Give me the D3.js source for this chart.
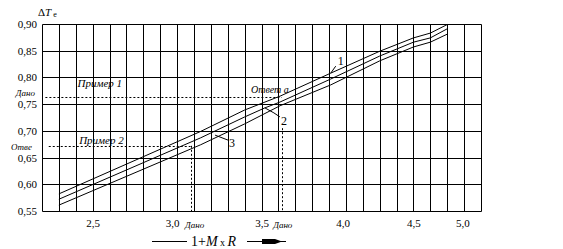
<!DOCTYPE html>
<html>
<head>
<meta charset="utf-8">
<script src="https://cdn.jsdelivr.net/npm/d3@7"></script>
<style>
    body { margin: 0; background: #fff; }
    text { font-family: "Liberation Serif", "DejaVu Serif", serif; fill: #000; }
    .it { font-style: italic; }
</style>
</head>
<body>
<div id="chart"></div>
<script>
// curves (x = 1+M x R, y = dT)
const curve1X = [2.30, 3.14, 3.40, 3.61, 3.91, 4.20, 4.40, 4.50, 4.60];
const curve1Y = [0.582, 0.699, 0.739, 0.765, 0.808, 0.849, 0.874, 0.883, 0.899];
const curve2X = [2.30, 3.14, 3.40, 3.52, 3.61, 3.91, 4.20, 4.40, 4.50, 4.60];
const curve2Y = [0.572, 0.687, 0.726, 0.743, 0.754, 0.797, 0.840, 0.866, 0.874, 0.891];
const curve3X = [2.30, 3.14, 3.40, 3.61, 3.91, 4.20, 4.40, 4.50, 4.60];
const curve3Y = [0.561, 0.674, 0.713, 0.747, 0.786, 0.831, 0.857, 0.866, 0.881];

// tick labels (the picture places them unevenly along the grid)
const xTickValues = [2.5, 2.97, 3.5, 3.98, 4.4, 4.69];
const xTickLabels = ["2,5", "3,0", "3,5", "4,0", "4,5", "5,0"];
const yTickValues = [0.55, 0.60, 0.65, 0.70, 0.75, 0.80, 0.85, 0.90];

// worked examples: given value and answer
const example1Y = 0.763;   // Пример 1, given dT
const example1X = 3.62;    // answer a
const example1Top = 0.705; // dotted vertical stops under label 2
const example2X = 3.08;    // Пример 2, given 1+M x R
const example2Y = 0.672;   // answer

const width = 563, height = 249;
const margin = { top: 24, right: 82, bottom: 38, left: 42 };

const svg = d3.select("#chart")
    .append("svg")
    .attr("width", width)
    .attr("height", height);

const x = d3.scaleLinear()
    .domain([2.2, 4.8])
    .range([margin.left, width - margin.right]);
const y = d3.scaleLinear()
    .domain([0.55, 0.90])
    .range([height - margin.bottom, margin.top]);

// snap to the pixel grid so every grid line is one pixel wide
const px = v => Math.round(v) + 0.5;

// grid
const grid = svg.append("g")
    .attr("stroke", "#000")
    .attr("stroke-width", 1);
grid.selectAll(".vLine")
    .data(d3.range(0, 27).map(i => 2.2 + i * 0.1))
    .join("line")
    .attr("class", "vLine")
    .attr("x1", d => px(x(d)))
    .attr("x2", d => px(x(d)))
    .attr("y1", px(y(0.90)))
    .attr("y2", px(y(0.55)));
grid.selectAll(".hLine")
    .data(yTickValues)
    .join("line")
    .attr("class", "hLine")
    .attr("x1", px(x(2.2)))
    .attr("x2", px(x(4.8)))
    .attr("y1", d => px(y(d)))
    .attr("y2", d => px(y(d)));

// y axis labels
const yAxis = d3.axisLeft(y)
    .tickValues(yTickValues)
    .tickFormat(d => d.toFixed(2).replace(".", ","))
    .tickSize(0)
    .tickPadding(5);
svg.append("g")
    .attr("transform", `translate(${margin.left},0)`)
    .call(yAxis)
    .call(g => g.select(".domain").remove())
    .selectAll("text")
    .attr("font-family", "Liberation Serif")
    .attr("font-size", 11);

// x axis labels
const xAxis = d3.axisBottom(x)
    .tickValues(xTickValues)
    .tickFormat((d, i) => xTickLabels[i])
    .tickSize(0)
    .tickPadding(8);
svg.append("g")
    .attr("transform", `translate(0,${y(0.55)})`)
    .call(xAxis)
    .call(g => g.select(".domain").remove())
    .selectAll("text")
    .attr("font-family", "Liberation Serif")
    .attr("font-size", 11);

// dotted guide lines of the examples
const dots = svg.append("g")
    .attr("stroke", "#000")
    .attr("stroke-width", 1)
    .attr("stroke-dasharray", "2,2");
dots.append("line")
    .attr("x1", x(2.22)).attr("x2", x(example1X))
    .attr("y1", px(y(example1Y))).attr("y2", px(y(example1Y)));
dots.append("line")
    .attr("x1", px(x(example1X))).attr("x2", px(x(example1X)))
    .attr("y1", y(example1Top)).attr("y2", y(0.55));
dots.append("line")
    .attr("x1", x(2.24)).attr("x2", x(example2X))
    .attr("y1", px(y(example2Y))).attr("y2", px(y(example2Y)));
dots.append("line")
    .attr("x1", px(x(example2X))).attr("x2", px(x(example2X)))
    .attr("y1", y(example2Y)).attr("y2", y(0.55));

// curves
const line = d3.line()
    .x(d => x(d[0]))
    .y(d => y(d[1]));
const curves = [
    d3.zip(curve1X, curve1Y),
    d3.zip(curve2X, curve2Y),
    d3.zip(curve3X, curve3Y)
];
svg.append("g")
    .selectAll("path")
    .data(curves)
    .join("path")
    .attr("d", line)
    .attr("fill", "none")
    .attr("stroke", "#000")
    .attr("stroke-width", 1);

// curve labels with leaders
const leaders = svg.append("g")
    .attr("stroke", "#000")
    .attr("fill", "none")
    .attr("stroke-width", 1);
const a1 = [x(3.91), y(0.808)];
leaders.append("path").attr("d", `M${a1[0]},${a1[1]}L${a1[0] + 5},${a1[1] - 7}`);
svg.append("text").attr("x", a1[0] + 7).attr("y", a1[1] - 8).attr("font-size", 12).text("1");
const a2 = [x(3.52), y(0.743)];
leaders.append("path").attr("d", `M${a2[0]},${a2[1]}L${a2[0] + 9},${a2[1] + 5}L${a2[0] + 15},${a2[1] + 9}`);
svg.append("text").attr("x", a2[0] + 16).attr("y", a2[1] + 17).attr("font-size", 12).text("2");
const a3 = [x(3.225), y(0.692)];
leaders.append("path").attr("d", `M${a3[0]},${a3[1]}L${a3[0] + 13},${a3[1] + 5}`);
svg.append("text").attr("x", a3[0] + 14).attr("y", a3[1] + 12).attr("font-size", 12).text("3");

// example annotations
svg.append("text").attr("class", "it")
    .attr("x", x(2.41)).attr("y", y(example1Y) - 10)
    .attr("font-size", 11).text("Пример 1");
svg.append("text").attr("class", "it")
    .attr("x", x(2.42)).attr("y", y(example2Y) - 2)
    .attr("font-size", 11).text("Пример 2");
svg.append("text").attr("class", "it")
    .attr("x", x(example1X) + 7).attr("y", y(example1Y) - 4)
    .attr("text-anchor", "end")
    .attr("font-size", 10).text("Ответ  a");
svg.append("text").attr("class", "it")
    .attr("x", margin.left - 7).attr("y", y(example1Y) - 1)
    .attr("text-anchor", "end")
    .attr("font-size", 9).text("Дано");
svg.append("text").attr("class", "it")
    .attr("x", margin.left - 10).attr("y", y(example2Y) + 4)
    .attr("text-anchor", "end")
    .attr("font-size", 9).text("Отве");
svg.append("text").attr("class", "it")
    .attr("x", x(example2X) + 4).attr("y", y(0.55) + 17)
    .attr("text-anchor", "middle")
    .attr("font-size", 9).text("Дано");
svg.append("text").attr("class", "it")
    .attr("x", x(example1X) + 1).attr("y", y(0.55) + 17)
    .attr("text-anchor", "middle")
    .attr("font-size", 9).text("Дано");

// y axis title
const yTitle = svg.append("text")
    .attr("x", margin.left - 4).attr("y", 16)
    .attr("font-size", 11);
yTitle.append("tspan").text("Δ");
yTitle.append("tspan").attr("class", "it").text("T");
yTitle.append("tspan").attr("font-size", 8).attr("dx", 2).attr("dy", 1).text("е");

// x axis title with arrow
const titleY = Math.round(y(0.55) + 30) + 0.5;
svg.append("line")
    .attr("x1", 152).attr("x2", 187)
    .attr("y1", titleY).attr("y2", titleY)
    .attr("stroke", "#000");
const xTitle = svg.append("text")
    .attr("x", 191).attr("y", titleY + 4.5)
    .attr("font-size", 14);
xTitle.append("tspan").text("1+");
xTitle.append("tspan").attr("class", "it").text("M");
xTitle.append("tspan").attr("font-size", 10).text(" x ");
xTitle.append("tspan").attr("class", "it").text("R");
svg.append("line")
    .attr("x1", 247).attr("x2", 286)
    .attr("y1", titleY).attr("y2", titleY)
    .attr("stroke", "#000");
svg.append("path")
    .attr("d", `M262,${titleY - 2.5}L275,${titleY - 2.5}L282,${titleY}L275,${titleY + 2.5}L262,${titleY + 2.5}Z`)
    .attr("fill", "#000");
</script>
</body>
</html>
